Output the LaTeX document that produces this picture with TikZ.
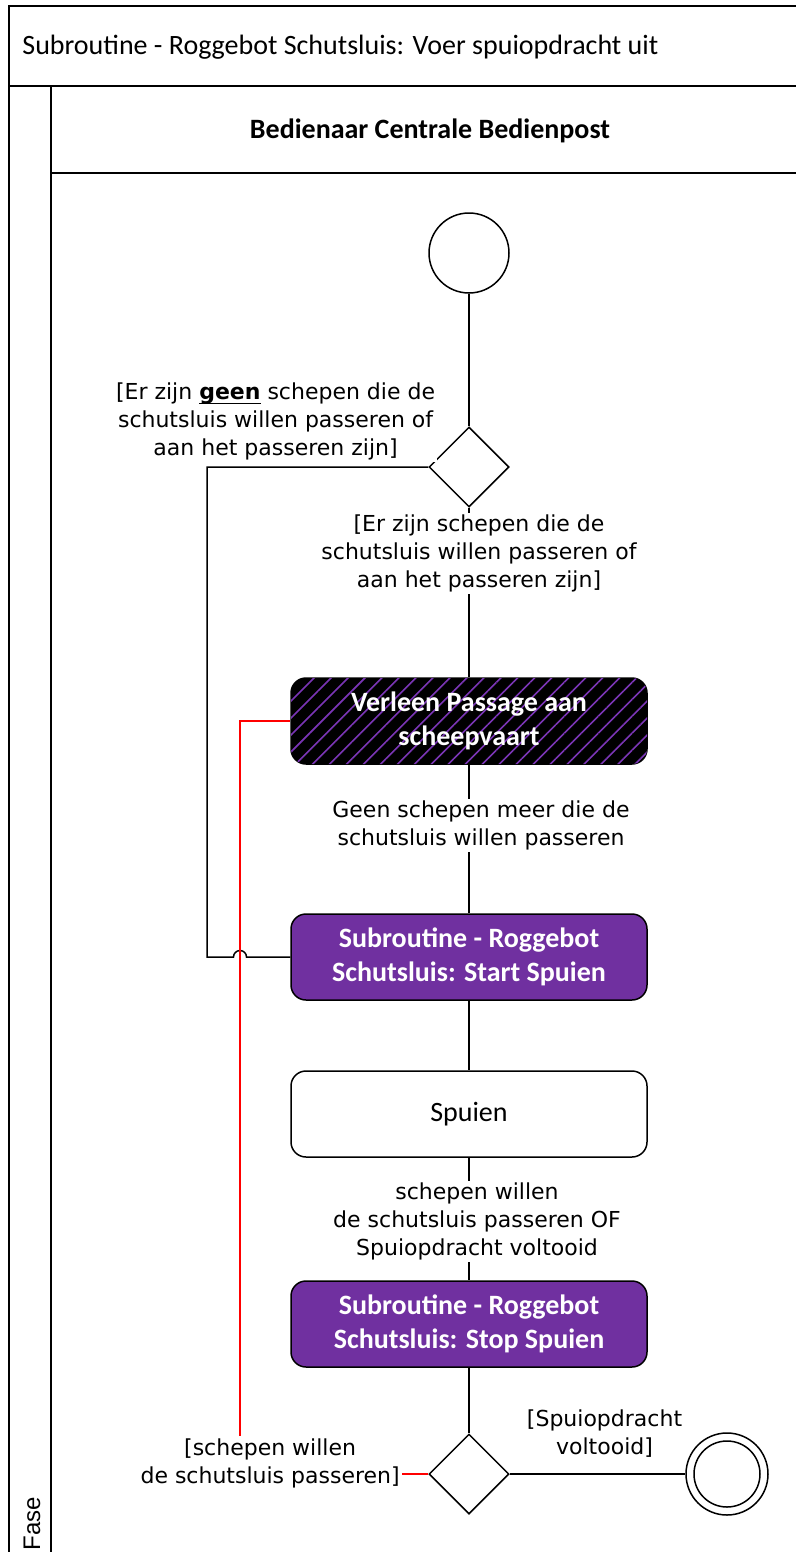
\documentclass[tikz,border=0pt]{standalone}
\usepackage{fontspec}
\setmainfont{Carlito}
\newfontfamily\labelfont{DejaVu Sans}
\newfontfamily\fasefont{Liberation Sans}
\usetikzlibrary{shapes.geometric,patterns.meta}
\definecolor{lila}{HTML}{7030A0}
\definecolor{streifen}{HTML}{7A35B5}
\newcommand\unterstrichen[1]{\setbox0\hbox{#1}\rlap{\rule[-2.3pt]{\wd0}{0.8pt}}\box0\relax}

\begin{document}
\begin{tikzpicture}[x=0.5pt, y=-0.5pt, line width=0.75pt,
    aktion/.style={draw, rounded corners=7.5pt, minimum width=178pt, minimum height=43pt, inner sep=2pt,
        align=center, font=\bfseries\fontsize{14}{17}\selectfont, text=white, fill=lila},
    schraffiert/.style={aktion, fill=black, postaction={pattern={Lines[angle=45, distance=6pt, line width=0.8pt]}, pattern color=streifen}},
    zustand/.style={aktion, fill=white, text=black, font=\fontsize{14}{17}\selectfont},
    entscheidung/.style={draw, diamond, aspect=1, minimum width=40pt, minimum height=40pt, inner sep=0pt},
    anfang/.style={draw, circle, minimum size=40pt, inner sep=0pt},
    ende/.style={draw, circle, minimum size=41pt, inner sep=0pt},
    bedingung/.style={fill=white, align=center, inner sep=1pt, font=\labelfont\fontsize{11}{14}\selectfont},
    rot/.style={draw=red}]
    \useasboundingbox (0,0) rectangle (796,1552);
    % Rahmen und Schwimmbahn
    \draw (9,1552) -- (9,6) -- (796,6);
    \draw (9,86) -- (796,86);
    \draw (51,86) -- (51,1552);
    \draw (51,173) -- (796,173);
    \node[anchor=west, font=\fontsize{14}{17}\selectfont] (titel) at (15,47) {Subroutine - Roggebot Schutsluis: Voer spuiopdracht uit};
    \node[font=\bfseries\fontsize{14}{17}\selectfont] (rolle) at (430,131) {Bedienaar Centrale Bedienpost};
    \node[rotate=90, anchor=west, inner sep=0pt, font=\fasefont\fontsize{12}{14}\selectfont] (fase) at (32,1551) {Fase};
    % Knoten
    \node[anfang] (start) at (469,253) {};
    \node[entscheidung] (ent1) at (469,467) {};
    \node[schraffiert] (passage) at (469,721) {Verleen Passage aan\\scheepvaart};
    \node[aktion] (startspuien) at (469,957) {Subroutine - Roggebot\\Schutsluis: Start Spuien};
    \node[zustand] (spuien) at (469,1114) {Spuien};
    \node[aktion] (stopspuien) at (469,1324) {Subroutine - Roggebot\\Schutsluis: Stop Spuien};
    \node[entscheidung] (ent2) at (469,1474) {};
    \node[ende] (stopp) at (727,1474) {};
    \node[draw, circle, minimum size=33pt, inner sep=0pt] (stoppinnen) at (stopp) {};
    % Verbindungen
    \draw (start) -- (ent1);
    \draw (ent1) -- node[bedingung, pos=0.27, xshift=5pt] {[Er zijn schepen die de\\schutsluis willen passeren of\\aan het passeren zijn]} (passage);
    \draw (ent1.west) -- node[bedingung, pos=0.69, above=2pt] {[Er zijn \unterstrichen{\textbf{geen}} schepen die de\\schutsluis willen passeren of\\aan het passeren zijn]} (207,467)
        -- (207,957) -- (233.5,957) arc[start angle=180, end angle=0, radius=3.25pt] -- (startspuien.west);
    \draw (passage) -- node[bedingung, pos=0.41, xshift=6pt] {Geen schepen meer die de\\schutsluis willen passeren} (startspuien);
    \draw (startspuien) -- (spuien);
    \draw (spuien) -- node[bedingung, pos=0.52, xshift=4pt] {schepen willen\\de schutsluis passeren OF\\Spuiopdracht voltooid} (stopspuien);
    \draw (stopspuien) -- (ent2);
    \draw (ent2.east) -- node[bedingung, pos=0.54, above=7pt] {[Spuiopdracht\\voltooid]} (stopp);
    \draw[rot] (ent2.west) -- node[bedingung, pos=0.84, yshift=5.5pt] {[schepen willen\\de schutsluis passeren]} (240,1474)
        -- (240,721) -- (passage.west);
\end{tikzpicture}
\end{document}
